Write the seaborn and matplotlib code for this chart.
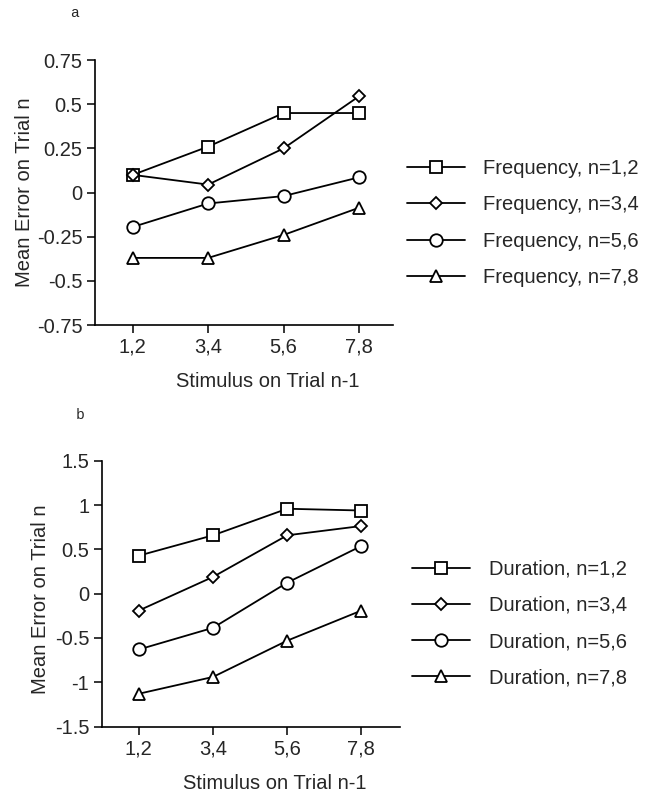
import matplotlib
matplotlib.use("Agg")
import matplotlib.pyplot as plt
import seaborn as sns
import pandas as pd
from matplotlib.lines import Line2D

sns.set_theme(style="ticks")
plt.rcParams['font.family'] = ['Liberation Sans', 'DejaVu Sans']

categories = ["1,2", "3,4", "5,6", "7,8"]

freq_labels = ["Frequency, n=1,2", "Frequency, n=3,4", "Frequency, n=5,6", "Frequency, n=7,8"]
freq_n12 = [0.10, 0.26, 0.45, 0.45]
freq_n34 = [0.10, 0.045, 0.25, 0.545]
freq_n56 = [-0.195, -0.062, -0.02, 0.086]
freq_n78 = [-0.37, -0.37, -0.24, -0.086]

dur_labels = ["Duration, n=1,2", "Duration, n=3,4", "Duration, n=5,6", "Duration, n=7,8"]
dur_n12 = [0.43, 0.66, 0.96, 0.94]
dur_n34 = [-0.19, 0.19, 0.66, 0.765]
dur_n56 = [-0.63, -0.385, 0.125, 0.54]
dur_n78 = [-1.13, -0.94, -0.53, -0.19]

freq_ticks = [-0.75, -0.5, -0.25, 0, 0.25, 0.5, 0.75]
freq_ticklabels = ["-0.75", "-0.5", "-0.25", "0", "0.25", "0.5", "0.75"]
dur_ticks = [-1.5, -1, -0.5, 0, 0.5, 1, 1.5]
dur_ticklabels = ["-1.5", "-1", "-0.5", "0", "0.5", "1", "1.5"]

markers = ["s", "D", "o", "^"]
msizes = [9, 6.5, 9, 9]
FS = 14.5

fig = plt.figure(figsize=(6.55, 7.92), dpi=100)
ax_a = fig.add_axes([0.145, 0.5896, 0.455, 0.3346])
ax_b = fig.add_axes([0.1553, 0.0827, 0.4554, 0.3353])


def draw(ax, series, labels, ticks, ticklabels, xlim):
    rows = []
    for lab, vals in zip(labels, series):
        for i, (c, v) in enumerate(zip(categories, vals)):
            rows.append({"x": i, "y": v, "series": lab})
    df = pd.DataFrame(rows)
    handles = []
    for lab, m, ms in zip(labels, markers, msizes):
        sub = df[df["series"] == lab]
        sns.lineplot(data=sub, x="x", y="y", ax=ax, color="black", lw=1.3,
                     marker=m, markersize=ms, markerfacecolor="white",
                     markeredgecolor="black", markeredgewidth=1.3, legend=False)
        handles.append(Line2D([], [], color="black", lw=1.3, marker=m, markersize=ms,
                              markerfacecolor="white", markeredgecolor="black",
                              markeredgewidth=1.3))
    ax.set_xlim(*xlim)
    ax.set_ylim(ticks[0], ticks[-1])
    ax.set_xticks(range(len(categories)))
    ax.set_xticklabels(categories)
    ax.set_yticks(ticks)
    ax.set_yticklabels(ticklabels)
    ax.set_xlabel("Stimulus on Trial n-1", fontsize=FS)
    ax.set_ylabel("Mean Error on Trial n", fontsize=FS)
    ax.xaxis.set_label_coords(0.58, -0.178)
    ax.tick_params(axis="both", labelsize=FS, length=6, width=1.1, color="black", pad=3)
    for s in ["top", "right"]:
        ax.spines[s].set_visible(False)
    for s in ["left", "bottom"]:
        ax.spines[s].set_color("black")
        ax.spines[s].set_linewidth(1.2)
    ax.set_facecolor("white")
    return handles


h_a = draw(ax_a, [freq_n12, freq_n34, freq_n56, freq_n78], freq_labels,
           freq_ticks, freq_ticklabels, (-0.5, 3.45))
h_b = draw(ax_b, [dur_n12, dur_n34, dur_n56, dur_n78], dur_labels,
           dur_ticks, dur_ticklabels, (-0.5, 3.52))
ax_a.yaxis.set_label_coords(-0.204, 0.5)
ax_b.yaxis.set_label_coords(-0.173, 0.48)

leg_kw = dict(loc="center left", bbox_transform=fig.transFigure, frameon=False,
              fontsize=FS, handlelength=2.9, handletextpad=0.9, labelspacing=0.85,
              borderpad=0, borderaxespad=0)
fig.legend(h_a, freq_labels, bbox_to_anchor=(0.621, 0.7184), **leg_kw)
fig.legend(h_b, dur_labels, bbox_to_anchor=(0.629, 0.2127), **leg_kw)

fig.text(0.113, 0.983, "a", fontsize=10.5, family=["Liberation Mono", "DejaVu Sans Mono"],
         ha="center", va="center")
fig.text(0.122, 0.476, "b", fontsize=10.5, family=["Liberation Mono", "DejaVu Sans Mono"],
         ha="center", va="center")

fig.savefig("out.png", dpi=100, facecolor="white")
